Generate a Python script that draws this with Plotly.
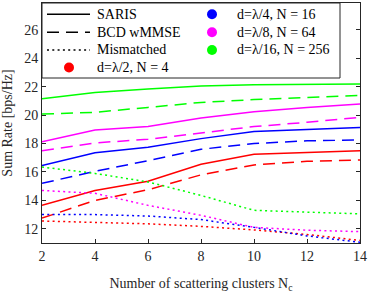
import plotly.graph_objects as go

x_clusters = [2, 4, 6, 8, 10, 12, 14]

# SARIS (solid)
saris_l2 = [13.65, 14.7, 15.35, 16.55, 17.25, 17.4, 17.5]
saris_l4 = [16.45, 17.35, 17.75, 18.35, 18.85, 19.0, 19.13]
saris_l8 = [18.13, 18.95, 19.2, 19.8, 20.25, 20.55, 20.78]
saris_l16 = [21.15, 21.6, 21.85, 22.05, 22.15, 22.2, 22.2]

# BCD wMMSE (dashed)
bcd_l2 = [12.75, 14.0, 14.75, 15.8, 16.5, 16.75, 16.85]
bcd_l4 = [15.2, 16.05, 16.8, 17.6, 18.0, 18.2, 18.25]
bcd_l8 = [17.5, 18.05, 18.3, 18.75, 19.2, 19.5, 19.85]
bcd_l16 = [20.08, 20.2, 20.55, 20.9, 21.1, 21.25, 21.4]

# Mismatched (dotted)
mis_l2 = [12.55, 12.45, 12.35, 12.17, 11.92, 11.6, 11.18]
mis_l4 = [13.0, 13.0, 12.9, 12.65, 12.1, 11.5, 11.05]
mis_l8 = [14.7, 14.5, 13.65, 12.95, 12.1, 11.9, 11.8]
mis_l16 = [16.35, 15.9, 15.3, 14.35, 13.3, 13.15, 13.05]

config_names = ["d=λ/2, N = 4", "d=λ/4, N = 16", "d=λ/8, N = 64", "d=λ/16, N = 256"]
config_colors = ["#FF0000", "#0000FF", "#FF00FF", "#00FF00"]

scheme_names = ["SARIS", "BCD wMMSE", "Mismatched"]
scheme_dash = ["solid", "12px,7px", "2px,3.3px"]
scheme_data = [
    [saris_l2, saris_l4, saris_l8, saris_l16],
    [bcd_l2, bcd_l4, bcd_l8, bcd_l16],
    [mis_l2, mis_l4, mis_l8, mis_l16],
]

FONT = "Liberation Serif"
AX = "#262626"

W, H = 371, 297
ML, MR, MT, MB = 42, 11, 3, 54
PW, PH = W - ML - MR, H - MT - MB


def px_x(p):
    return (p - ML) / PW


def px_y(p):
    return (H - MB - p) / PH


fig = go.Figure()

for s, series in enumerate(scheme_data):
    for c, vals in enumerate(series):
        fig.add_trace(go.Scatter(
            x=x_clusters, y=vals, mode="lines",
            line=dict(color=config_colors[c], width=1.5, dash=scheme_dash[s]),
            showlegend=False, hoverinfo="skip"))

# ---- manual two-column legend ----
shapes = []
annotations = []
shapes.append(dict(type="rect", xref="paper", yref="paper",
                   x0=px_x(42), x1=px_x(340), y0=px_y(78), y1=px_y(3),
                   fillcolor="white", line=dict(color=AX, width=1), layer="above"))
row_y = [14.3, 32.3, 50.0, 67.5]
col1_sym, col1_txt = 69, 95
col2_sym, col2_txt = 212, 235

col1 = [("line", i) for i in range(3)] + [("dot", 0)]
col2 = [("dot", 1), ("dot", 2), ("dot", 3)]

for col, sym_x, txt_x in [(col1, col1_sym, col1_txt), (col2, col2_sym, col2_txt)]:
    for r, (kind, i) in enumerate(col):
        yy = px_y(row_y[r])
        if kind == "line":
            shapes.append(dict(type="line", xref="paper", yref="paper",
                               x0=px_x(sym_x - 22), x1=px_x(sym_x + 21), y0=yy, y1=yy,
                               line=dict(color="black", width=1.5, dash=scheme_dash[i]),
                               layer="above"))
            label = scheme_names[i]
        else:
            shapes.append(dict(type="circle", xref="paper", yref="paper",
                               xsizemode="pixel", ysizemode="pixel",
                               xanchor=px_x(sym_x), yanchor=yy,
                               x0=-5, x1=5, y0=-5, y1=5,
                               fillcolor=config_colors[i], line=dict(width=0),
                               layer="above"))
            label = config_names[i]
        annotations.append(dict(xref="paper", yref="paper", x=px_x(txt_x), y=yy,
                                xanchor="left", yanchor="middle", showarrow=False,
                                text=label, font=dict(family=FONT, size=14, color="black")))

axis_common = dict(
    showline=True, linecolor=AX, linewidth=1, mirror="ticks",
    ticks="inside", ticklen=4, tickcolor=AX, showgrid=False, zeroline=False,
    tickfont=dict(family=FONT, size=14, color=AX), ticklabeloverflow="allow",
)

fig.update_layout(
    width=W, height=H,
    margin=dict(l=ML, r=MR, t=MT, b=MB),
    paper_bgcolor="white", plot_bgcolor="white",
    font=dict(family=FONT, size=14, color=AX),
    showlegend=False,
    xaxis=dict(range=[2, 14], tick0=2, dtick=2,
               title=dict(text="Number of scattering clusters N<sub>c</sub>",
                          font=dict(family=FONT, size=14, color=AX), standoff=15),
               **axis_common),
    yaxis=dict(range=[11, 27.9], tick0=12, dtick=2,
               title=dict(text="Sum Rate [bps/Hz]",
                          font=dict(family=FONT, size=14, color=AX), standoff=9),
               **axis_common),
    shapes=shapes,
    annotations=annotations,
)

fig.write_html("out.html", config={"displayModeBar": False},
               post_script="document.body.style.margin='0';document.body.style.overflow='hidden';")
